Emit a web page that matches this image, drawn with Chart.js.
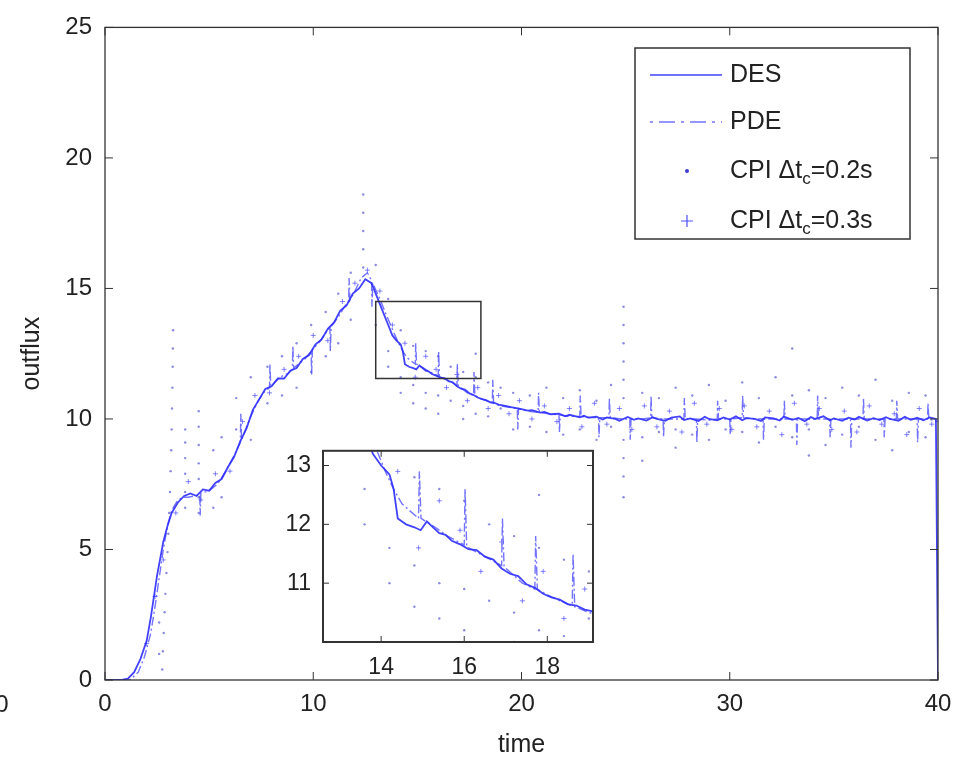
<!DOCTYPE html>
<html>
<head>
<meta charset="utf-8">
<script src="https://cdn.jsdelivr.net/npm/chart.js@4.4.1/dist/chart.umd.min.js"></script>
<style>
html, body { margin: 0; padding: 0; background: #fff; }
#wrap { position: relative; width: 972px; height: 761px; overflow: hidden; }
#mainChart { position: absolute; left: 0; top: 0; }
#insetChart { position: absolute; left: 263px; top: 425px; }
</style>
</head>
<body>
<div id="wrap">
  <canvas id="mainChart" width="972" height="761"></canvas>
  <canvas id="insetChart" width="340" height="270"></canvas>
</div>
<script>
// ---- data: [time, outflux] ----
const desCurve = [
  [0,0],[0.8,0],[1.1,0.05],[1.4,0.3],[1.7,0.8],[2.0,1.5],[2.2,2.4],[2.5,4.0],[2.8,5.3],
  [3.0,5.9],[3.2,6.4],[3.5,6.8],[3.8,7.05],[4.1,7.15],[4.4,7.05],[4.7,7.3],[5.0,7.25],
  [5.3,7.55],[5.6,7.7],[5.9,8.15],[6.2,8.55],[6.5,9.15],[6.8,9.65],[7.1,10.35],[7.4,10.75],[7.7,11.15],
  [8.0,11.25],[8.3,11.55],[8.6,11.55],[8.9,11.85],[9.2,11.95],[9.5,12.3],[9.8,12.45],[10.1,12.85],
  [10.4,13.05],[10.7,13.45],[11.0,13.7],[11.3,14.15],[11.6,14.35],[11.9,14.8],[12.2,15.0],
  [12.5,15.35],[12.8,15.2],[13.0,14.8],[13.2,14.4],[13.4,14.0],[13.6,13.6],[13.8,13.2],[14.0,13.0],
  [14.2,12.85],[14.3,12.6],[14.4,12.1],[14.6,12.0],[14.8,11.95],[14.95,11.9],[15.1,12.05],
  [15.25,11.95],[15.4,11.85],[15.55,11.82],[15.7,11.72],[15.9,11.66],[16.1,11.58],[16.3,11.56],
  [16.5,11.45],[16.7,11.4],[16.9,11.25],[17.1,11.16],[17.3,11.12],[17.5,10.98],[17.7,10.92],
  [17.9,10.82],[18.1,10.76],[18.3,10.72],[18.5,10.64],[18.7,10.62],[18.9,10.55],[19.1,10.52],
  [19.5,10.45],[20.0,10.38],[20.3,10.32],[20.5,10.34],[20.9,10.24],[21.1,10.27],[21.4,10.18],
  [21.8,10.2],[22.1,10.1],[22.3,10.16],[22.8,10.06],[23.0,10.12],[23.2,10.05],[23.6,10.09],
  [23.9,9.98],[24.1,10.06],[24.5,10.0],[24.7,9.93],[25.1,10.08],[25.4,9.97],[25.6,10.02],
  [26.0,9.94],[26.3,10.07],[26.5,10.0],[26.9,9.93],[27.2,10.05],[27.6,10.1],[27.8,9.96],
  [28.1,10.02],[28.5,9.92],[28.8,10.08],[29.0,10.0],[29.4,9.95],[29.7,10.06],[30.0,9.98],
  [30.3,10.1],[30.6,9.95],[30.8,10.03],[31.2,10.0],[31.5,9.92],[31.7,10.06],[32.1,10.02],
  [32.4,9.94],[32.6,10.09],[33.0,9.97],[33.3,10.04],[33.6,9.91],[33.9,10.07],[34.1,10.0],
  [34.5,10.1],[34.8,9.95],[35.0,10.02],[35.4,9.93],[35.7,10.05],[36.0,9.98],[36.2,10.08],
  [36.6,9.94],[36.9,10.03],[37.2,9.96],[37.5,10.07],[37.7,10.0],[38.1,9.93],[38.4,10.08],
  [38.7,9.97],[39.0,10.05],[39.3,9.95],[39.6,10.06],[39.9,10.0],[40,0]
];

const pdeCurve = [
  [0,0],[1.2,0],[1.6,0.3],[1.9,0.9],[2.2,1.8],[2.4,2.8],[2.6,3.9],[2.8,5.0],[3.0,5.9],[3.2,6.5],
  [3.5,6.9],[3.8,7.0],[4.0,7.0],[4.55,7.1],[4.57,6.3],[4.6,7.15],[5.0,7.25],[5.4,7.5],[5.8,8.0],
  [6.2,8.6],[6.5,9.1],[6.52,10.2],[6.56,9.2],[7.0,10.1],[7.3,10.6],[7.6,11.0],[7.9,11.2],
  [7.92,12.1],[7.96,11.25],[8.4,11.6],[8.8,11.75],[9.0,11.9],[9.02,12.8],[9.06,11.95],[9.6,12.3],
  [9.9,12.6],[9.92,11.7],[9.96,12.65],[10.3,12.95],[10.6,13.3],[10.8,13.5],[10.82,12.6],
  [10.86,13.55],[11.2,13.9],[11.5,14.3],[11.7,14.5],[11.72,15.4],[11.76,14.55],[12.0,14.9],
  [12.3,15.4],[12.6,15.6],[12.8,15.3],[12.82,14.3],[12.86,15.2],[13.2,14.6],[13.5,14.0],
  [13.9,13.25],[14.1,12.9],[14.3,12.6],[14.5,12.35],[14.9,12.1],[14.92,12.9],[14.96,12.1],
  [15.3,11.95],[15.6,11.8],[16.0,11.65],[16.02,12.6],[16.06,11.62],[16.5,11.45],[16.9,11.3],
  [16.92,12.1],[16.96,11.28],[17.4,11.0],[17.7,10.9],[17.72,11.8],[17.76,10.9],[18.0,10.8],
  [18.3,10.7],[18.6,10.62],[18.62,11.5],[18.66,10.6],[19.0,10.5],[19.4,10.45],[19.8,10.4],
  [19.82,9.6],[19.86,10.4],[20.3,10.3],[20.8,10.25],[20.82,11.0],[20.86,10.25],[21.3,10.2],
  [21.8,10.15],[21.82,9.5],[21.86,10.15],[22.3,10.1],[22.8,10.1],[22.82,10.9],[22.86,10.1],
  [23.3,10.05],[23.7,10.05],[23.72,9.3],[23.76,10.05],[24.2,10.05],[24.22,10.8],[24.26,10.05],
  [24.8,10.0],[25.2,10.0],[25.22,9.2],[25.26,10.0],[25.8,10.0],[26.2,10.05],[26.22,10.9],
  [26.26,10.05],[26.8,10.0],[26.82,9.3],[26.86,10.0],[27.4,10.0],[27.8,10.0],[27.82,10.8],
  [27.86,10.0],[28.4,10.0],[28.42,9.1],[28.46,10.0],[29.0,9.95],[29.4,10.0],[29.42,10.7],
  [29.46,10.0],[30.0,10.0],[30.02,9.4],[30.06,10.0],[30.6,10.05],[30.62,10.9],[30.66,10.05],
  [31.2,10.0],[31.6,10.0],[31.62,9.2],[31.66,10.0],[32.2,10.0],[32.6,10.0],[32.62,10.7],
  [32.66,10.0],[33.2,10.0],[33.22,9.0],[33.26,10.0],[33.8,10.0],[34.2,10.0],[34.22,10.9],
  [34.26,10.0],[34.8,10.0],[34.82,9.3],[34.86,10.0],[35.4,10.0],[35.8,10.0],[35.82,8.9],
  [35.86,10.0],[36.4,10.0],[36.42,10.8],[36.46,10.0],[37.0,10.0],[37.4,10.0],[37.42,9.3],
  [37.46,10.0],[38.0,10.0],[38.02,10.7],[38.06,10.0],[38.6,10.0],[39.0,10.0],[39.02,9.1],
  [39.06,10.0],[39.5,10.0],[39.52,10.6],[39.56,10.0],[40,9.9]
];

const cpiDots = [
  [2.75,0.4],[2.78,1.1],[2.82,1.8],[2.86,2.6],[2.9,3.3],[2.95,4.1],[3.0,4.9],[3.04,5.6],[3.08,6.4],
  [3.12,7.2],[3.15,8.0],[3.18,8.8],[3.2,9.6],[3.22,10.4],[3.24,11.2],[3.25,12.0],[3.26,12.7],[3.27,13.4],
  [3.85,6.6],[3.85,7.2],[3.85,7.9],[3.85,8.5],[3.85,9.1],[3.85,9.6],
  [4.5,6.4],[4.5,7.0],[4.5,7.7],[4.5,8.3],[4.5,9.0],[4.5,9.7],[4.5,10.3],
  [2.6,1.0],[2.6,2.2],[5.2,6.6],[5.2,8.8],[5.6,7.0],[5.6,9.3],[6.3,9.6],[6.3,10.8],
  [7.0,11.6],[7.0,9.2],[7.8,12.0],[7.8,10.6],[8.5,12.4],[8.5,10.9],[9.2,12.9],[9.2,11.2],
  [9.9,13.6],[9.9,11.8],[10.6,14.1],[10.6,12.4],[11.2,14.8],[11.2,12.9],[11.8,15.6],[11.8,13.8],
  [12.4,15.8],[12.4,16.5],[12.4,17.2],[12.4,17.9],[12.4,18.6],
  [13.0,15.9],[13.0,13.6],[13.6,14.6],[13.6,12.6],[13.6,12.0],[14.2,13.4],[14.2,11.6],[14.2,11.0],
  [14.8,12.8],[14.8,11.3],[14.8,10.6],[15.4,12.6],[15.4,11.0],[15.4,10.4],[16.0,12.4],[16.0,10.9],
  [16.0,10.2],[16.6,12.0],[16.6,10.7],[17.2,11.8],[17.2,10.5],[17.2,10.0],[17.8,12.5],[17.8,11.6],
  [17.8,10.2],[18.4,11.4],[18.4,10.1],[19.0,11.2],[19.0,10.4],[19.6,11.0],[19.6,9.6],
  [20.4,10.9],[20.4,9.7],[21.2,11.2],[21.2,9.5],[22.0,10.8],[22.0,9.4],[22.8,11.1],[22.8,9.6],
  [23.6,10.7],[23.6,9.2],[24.3,11.3],[24.3,9.7],
  [24.9,14.3],[24.9,13.6],[24.9,12.9],[24.9,12.2],[24.9,11.5],[24.9,10.8],[24.9,9.2],[24.9,8.5],
  [24.9,7.8],[24.9,7.0],
  [25.8,11.0],[25.8,9.3],[25.8,8.4],[26.6,10.8],[26.6,9.5],[27.4,11.2],[27.4,9.6],[27.4,8.9],
  [28.2,10.9],[28.2,9.4],[29.0,11.3],[29.0,9.2],[29.8,10.7],[29.8,9.6],[30.6,11.4],[30.6,9.5],
  [31.4,10.8],[31.4,9.1],[32.2,11.6],[32.2,9.7],[33.0,12.7],[33.0,10.9],[33.0,9.3],[33.8,11.1],
  [33.8,9.6],[33.8,8.6],[34.6,10.8],[34.6,9.0],[35.4,11.2],[35.4,9.4],[36.2,10.9],[36.2,9.7],
  [37.0,11.5],[37.0,9.2],[37.8,10.7],[37.8,8.8],[38.6,11.0],[38.6,9.5],[39.4,10.9],[39.4,9.3]
];

const cpiPlus = [
  [2.0,1.4],[2.4,3.2],[2.8,4.6],[3.4,6.4],[4.0,7.6],[4.6,6.9],[5.3,7.9],[6.0,8.0],[6.6,9.9],
  [7.2,10.9],[7.9,11.0],[8.6,11.9],[9.3,12.4],[10.0,13.2],[10.7,13.0],[11.4,14.5],[12.0,15.2],
  [12.6,15.7],[13.2,14.9],[13.8,13.6],[14.4,12.9],[14.9,11.6],[15.4,12.4],[15.9,11.9],[16.4,11.2],
  [16.9,11.7],[17.4,10.7],[17.9,11.2],[18.4,10.4],[18.9,10.9],[19.4,10.2],[19.9,10.7],[20.5,10.0],
  [21.1,10.5],[21.7,9.9],[22.3,10.4],[22.9,9.7],[23.5,10.6],[24.1,9.8],[24.7,10.4],[25.3,9.6],
  [25.9,10.5],[26.5,9.7],[27.1,10.3],[27.7,9.5],[28.3,10.6],[28.9,9.8],[29.5,10.4],[30.1,9.6],
  [30.7,10.5],[31.3,9.7],[31.9,10.3],[32.5,9.4],[33.1,10.6],[33.7,9.8],[34.3,10.4],[34.9,9.6],
  [35.5,10.3],[36.1,9.5],[36.7,10.5],[37.3,9.8],[37.9,10.2],[38.5,9.4],[39.1,10.4],[39.7,9.8]
];

const xTicksMain = [0, 10, 20, 30, 40];
const yTicksMain = [0, 5, 10, 15, 20, 25];
const xTicksInset = [14, 16, 18];
const yTicksInset = [11, 12, 13];
const insetRange = [12.6, 19.1, 10.0, 13.25];   // xmin, xmax, ymin, ymax
const zoomBox = [13.0, 18.05, 11.55, 14.5];      // rectangle marked on main axes
const legendLabels = ['DES', 'PDE', 'CPI \u0394t|c|=0.2s', 'CPI \u0394t|c|=0.3s'];

const FONT = '"Liberation Sans", Arial, Helvetica, sans-serif';
const toPts = arr => arr.map(p => ({ x: p[0], y: p[1] }));

function makeDatasets() {
  return [
    { label: 'DES', data: toPts(desCurve), showLine: true, pointRadius: 0,
      borderColor: 'rgba(45,45,255,0.9)', borderWidth: 1.8 },
    { label: 'PDE', data: toPts(pdeCurve), showLine: true, pointRadius: 0,
      borderColor: 'rgba(80,80,255,0.8)', borderWidth: 1.4, borderDash: [9, 3, 2, 3] },
    { label: 'CPI 0.2', data: toPts(cpiDots), showLine: false, pointRadius: 1.2,
      pointBackgroundColor: 'rgba(60,60,200,0.6)', pointBorderWidth: 0 },
    { label: 'CPI 0.3', data: toPts(cpiPlus), showLine: false, pointStyle: 'cross', pointRadius: 2.5,
      pointBorderColor: 'rgba(80,80,255,0.7)', pointBorderWidth: 1 }
  ];
}

// box + inward ticks on every side
const framePlugin = {
  id: 'frame',
  beforeDatasetsDraw(chart, args, opts) {
    if (!opts.fillWhite) return;
    const a = chart.chartArea;
    chart.ctx.save();
    chart.ctx.fillStyle = '#fff';
    chart.ctx.fillRect(a.left, a.top, a.width, a.height);
    chart.ctx.restore();
  },
  afterDatasetsDraw(chart, args, opts) {
    const { ctx, chartArea: a, scales } = chart;
    const L = opts.tickLen;
    ctx.save();
    ctx.strokeStyle = '#333';
    ctx.lineWidth = opts.lineWidth;
    ctx.strokeRect(a.left, a.top, a.width, a.height);
    ctx.lineWidth = 1;
    ctx.beginPath();
    scales.x.ticks.forEach(t => {
      const px = scales.x.getPixelForValue(t.value);
      ctx.moveTo(px, a.bottom); ctx.lineTo(px, a.bottom - L);
      ctx.moveTo(px, a.top); ctx.lineTo(px, a.top + L);
    });
    scales.y.ticks.forEach(t => {
      const py = scales.y.getPixelForValue(t.value);
      ctx.moveTo(a.left, py); ctx.lineTo(a.left + L, py);
      ctx.moveTo(a.right, py); ctx.lineTo(a.right - L, py);
    });
    ctx.stroke();
    ctx.restore();
  }
};

function drawSubLabel(ctx, text, x, y) {
  // "a|b|c" -> a, subscript b, c
  const parts = text.split('|');
  let cx = x;
  parts.forEach((s, i) => {
    if (i % 2 === 1) {
      ctx.font = '17px ' + FONT;
      ctx.fillText(s, cx, y + 8);
    } else {
      ctx.font = '25px ' + FONT;
      ctx.fillText(s, cx, y);
    }
    cx += ctx.measureText(s).width;
  });
}

// legend, zoom rectangle and axis titles for the main axes
const overlayPlugin = {
  id: 'overlay',
  afterDraw(chart) {
    const { ctx, scales: { x, y }, chartArea: a } = chart;
    ctx.save();
    // zoom rectangle
    const x0 = x.getPixelForValue(zoomBox[0]), x1 = x.getPixelForValue(zoomBox[1]);
    const y0 = y.getPixelForValue(zoomBox[3]), y1 = y.getPixelForValue(zoomBox[2]);
    ctx.strokeStyle = '#333';
    ctx.lineWidth = 1.5;
    ctx.strokeRect(x0, y0, x1 - x0, y1 - y0);

    // legend
    const lx = 635, ly = 48, lw = 275, lh = 191;
    ctx.fillStyle = '#fff';
    ctx.fillRect(lx, ly, lw, lh);
    ctx.lineWidth = 1.5;
    ctx.strokeRect(lx, ly, lw, lh);
    const rows = [75, 122, 171, 221];
    const ds = chart.data.datasets;
    ctx.textBaseline = 'middle';
    ctx.fillStyle = '#222';
    rows.forEach((ry, i) => {
      ctx.save();
      if (i === 0 || i === 1) {
        ctx.strokeStyle = ds[i].borderColor;
        ctx.lineWidth = 1.3;
        ctx.setLineDash(i === 1 ? [3, 6, 16, 6] : []);
        ctx.beginPath(); ctx.moveTo(650, ry); ctx.lineTo(722, ry); ctx.stroke();
      } else if (i === 2) {
        ctx.fillStyle = 'rgba(40,40,200,0.9)';
        ctx.beginPath(); ctx.arc(687, ry, 2, 0, Math.PI * 2); ctx.fill();
      } else {
        ctx.strokeStyle = 'rgba(60,60,255,0.9)';
        ctx.lineWidth = 1.2;
        ctx.beginPath();
        ctx.moveTo(681, ry); ctx.lineTo(693, ry);
        ctx.moveTo(687, ry - 6); ctx.lineTo(687, ry + 6);
        ctx.stroke();
      }
      ctx.restore();
      drawSubLabel(ctx, legendLabels[i], 730, ry);
    });

    // axis titles
    ctx.fillStyle = '#222';
    ctx.font = '25px ' + FONT;
    ctx.textAlign = 'center';
    ctx.fillText('time', (a.left + a.right) / 2, 745);
    ctx.save();
    ctx.translate(32, (a.top + a.bottom) / 2);
    ctx.rotate(-Math.PI / 2);
    ctx.fillText('outflux', 0, 0);
    ctx.restore();
    // stray label from neighbouring panel
    ctx.font = '24px ' + FONT;
    ctx.fillText('0', 2, 705);
    ctx.restore();
  }
};

function tickFont(size) { return { family: FONT, size: size }; }

new Chart(document.getElementById('mainChart'), {
  type: 'scatter',
  data: { datasets: makeDatasets() },
  options: {
    responsive: false,
    animation: false,
    devicePixelRatio: 1,
    layout: { padding: { left: 0, right: 34, top: 25, bottom: 0 } },
    plugins: {
      legend: { display: false },
      tooltip: { enabled: false },
      frame: { tickLen: 8, lineWidth: 1.3 }
    },
    scales: {
      x: {
        type: 'linear', min: 0, max: 40,
        grid: { display: false, drawTicks: false }, border: { display: false },
        afterBuildTicks: s => { s.ticks = xTicksMain.map(v => ({ value: v })); },
        afterFit: s => { s.height = 81; },
        ticks: { font: tickFont(24), color: '#222', padding: 10, maxRotation: 0 }
      },
      y: {
        type: 'linear', min: 0, max: 25,
        grid: { display: false, drawTicks: false }, border: { display: false },
        afterBuildTicks: s => { s.ticks = yTicksMain.map(v => ({ value: v })); },
        afterFit: s => { s.width = 105; },
        ticks: { font: tickFont(24), color: '#222', padding: 13 }
      }
    }
  },
  plugins: [framePlugin, overlayPlugin]
});

new Chart(document.getElementById('insetChart'), {
  type: 'scatter',
  data: { datasets: makeDatasets() },
  options: {
    responsive: false,
    animation: false,
    devicePixelRatio: 1,
    layout: { padding: { left: 0, right: 10, top: 12, bottom: 0 } },
    plugins: {
      legend: { display: false },
      tooltip: { enabled: false },
      frame: { tickLen: 6, lineWidth: 2, fillWhite: true }
    },
    scales: {
      x: {
        type: 'linear', min: insetRange[0], max: insetRange[1],
        grid: { display: false, drawTicks: false }, border: { display: false },
        afterBuildTicks: s => { s.ticks = xTicksInset.map(v => ({ value: v })); },
        afterFit: s => { s.height = 53; },
        ticks: { font: tickFont(23), color: '#222', padding: 12, maxRotation: 0 }
      },
      y: {
        type: 'linear', min: insetRange[2], max: insetRange[3],
        grid: { display: false, drawTicks: false }, border: { display: false },
        afterBuildTicks: s => { s.ticks = yTicksInset.map(v => ({ value: v })); },
        afterFit: s => { s.width = 60; },
        ticks: { font: tickFont(23), color: '#222', padding: 12 }
      }
    }
  },
  plugins: [framePlugin]
});
</script>
</body>
</html>
